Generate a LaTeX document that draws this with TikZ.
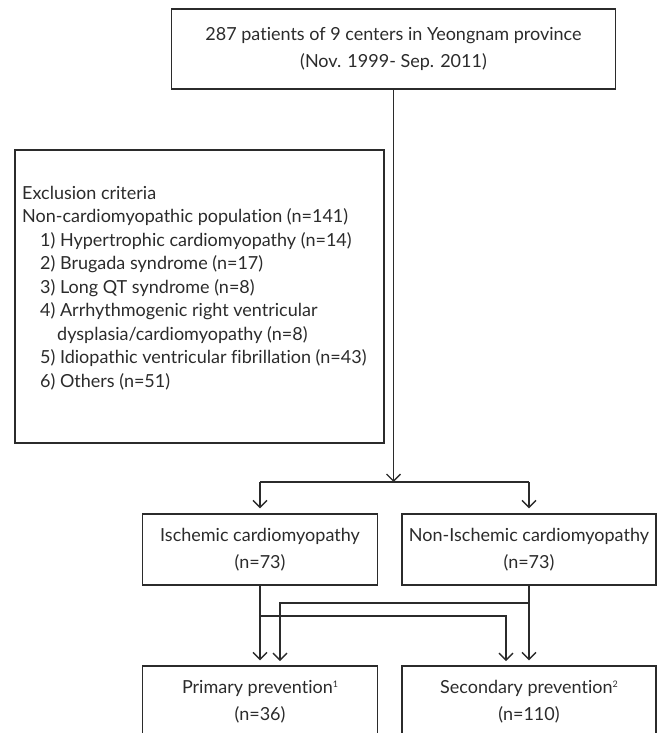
\documentclass[tikz,border=0pt]{standalone}
\usepackage{fontspec}
\setmainfont{Lato}[Ligatures=NoCommon]
\usetikzlibrary{positioning,arrows.meta}
\definecolor{flowgray}{HTML}{2B2B2B}
\newcommand{\supmark}[1]{\raisebox{6pt}{\fontsize{9}{9}\selectfont #1}}

\begin{document}
\begin{tikzpicture}[x=1pt, y=-1pt,
      box/.style={rectangle, draw=flowgray, line width=1.4pt,
        minimum height=71pt, inner sep=0pt, align=center,
        text=flowgray, font=\fontsize{18}{26.5}\selectfont},
      arr/.style={-{Straight Barb[length=7pt,width=14pt]}, line width=1.3pt,
        color=flowgray, shorten >=5pt},
      conn/.style={line width=1.3pt, color=flowgray}
    ]
      \path[use as bounding box, clip] (0,0) rectangle (657,733);
      % boxes
      \node[box, minimum width=444pt, minimum height=80pt] (src) at (393.5,49)
        {287 patients of 9 centers in Yeongnam province\\(Nov. 1999- Sep. 2011)};
      \node[box, minimum width=369pt, minimum height=293pt] (excl) at (199.5,296.5) {};
      \node[anchor=north west, inner sep=0pt, align=left, text=flowgray,
        font=\fontsize{18}{23.5}\selectfont] (excltxt) at (22,186)
        {Exclusion criteria\\
         Non-cardiomyopathic population (n=141)\\
         \hspace{18pt}1) Hypertrophic cardiomyopathy (n=14)\\
         \hspace{18pt}2) Brugada syndrome (n=17)\\
         \hspace{18pt}3) Long QT syndrome (n=8)\\
         \hspace{18pt}4) Arrhythmogenic right ventricular\\
         \hspace{35pt}dysplasia/cardiomyopathy (n=8)\\
         \hspace{18pt}5) Idiopathic ventricular fibrillation (n=43)\\
         \hspace{18pt}6) Others (n=51)};
      \node[box, minimum width=235pt] (isch) at (260,549.5)
        {Ischemic cardiomyopathy\\(n=73)};
      \node[box, minimum width=254pt] (nonisch) at (529,549.5)
        {Non-Ischemic cardiomyopathy\\(n=73)};
      \node[box, minimum width=235pt] (prim) at (260,701.5)
        {Primary prevention\supmark{1}\\(n=36)};
      \node[box, minimum width=254pt] (sec) at (529,701.5)
        {Secondary prevention\supmark{2}\\(n=110)};
      % connectors
      \coordinate (split) at (393.5,482);
      \coordinate (ifork) at (260,616);
      \coordinate (itosec) at (506,666);
      \coordinate (nfork) at (529,603);
      \coordinate (ntoprim) at (280,666);
      \draw[arr, shorten >=0pt] (src) -- (split);
      \draw[conn] (split -| isch) -- (split -| nonisch);
      \draw[arr] (split -| isch) -- (isch);
      \draw[arr] (split -| nonisch) -- (nonisch);
      \draw[arr] (isch) -- (prim);
      \draw[arr] (nonisch) -- (sec);
      \draw[arr] (nfork) -| (ntoprim);
      \draw[arr] (ifork) -| (itosec);
    \end{tikzpicture}
\end{document}
